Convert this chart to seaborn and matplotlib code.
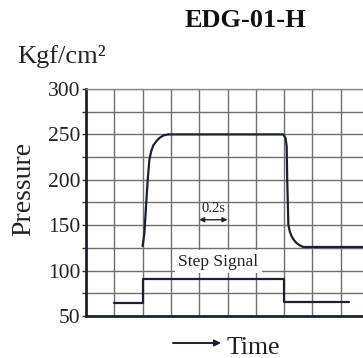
import matplotlib
matplotlib.use("Agg")
import matplotlib.pyplot as plt
import seaborn as sns
import pandas as pd
import numpy as np

# ---- data ----
pressure_time = [2.0, 2.06, 2.12, 2.18, 2.24, 2.30, 2.38, 2.50, 2.61, 2.75, 2.91,
                 6.97, 7.05, 7.09, 7.11, 7.15, 7.20, 7.27, 7.35, 7.44, 7.55, 7.68, 10.0]
pressure_vals = [127, 140, 170, 200, 222, 231, 238, 243, 246.5, 249, 250,
                 250, 246, 237, 200, 151, 143, 137.5, 133.5, 130.4, 127.8, 126, 126]
step_time = [1.0, 2.0, 2.0, 7.0, 7.0, 9.3]
step_vals = [64, 64, 91, 91, 65, 65]
yticks = [50, 75, 100, 125, 150, 175, 200, 225, 250, 275, 300]
ytick_labels = ["50", "", "100", "", "150", "", "200", "", "250", "", "300"]
xgrid = [0, 1, 2, 3, 4, 5, 6, 7, 8, 9, 10]

sns.set_theme(style="white")
plt.rcParams["font.family"] = ["Liberation Serif", "DejaVu Serif"]

W, H = 363, 358
fig = plt.figure(figsize=(W / 100, H / 100), dpi=100)
ax = fig.add_axes([86 / W, (H - 316) / H, (369 - 86) / W, (316 - 89) / H])

line_color = "#1c222c"
df_p = pd.DataFrame({"t": pressure_time, "p": pressure_vals})
df_s = pd.DataFrame({"t": step_time, "p": step_vals})
sns.lineplot(data=df_p, x="t", y="p", sort=False, estimator=None, ax=ax,
             color=line_color, lw=1.6, zorder=4)
sns.lineplot(data=df_s, x="t", y="p", sort=False, estimator=None, ax=ax,
             color=line_color, lw=1.6, zorder=4)

ax.set_xlim(0, 10)
ax.set_ylim(50, 300)
ax.set_xticks(xgrid)
ax.set_xticklabels([])
ax.set_yticks(yticks)
ax.set_yticklabels(ytick_labels, fontsize=15.5, color="#222222")
ax.tick_params(axis="y", which="major", length=3, width=1, color="#333333",
               left=True, pad=1)
ax.tick_params(axis="x", length=0)
ax.grid(True, color="#6f6f6f", lw=1.0, zorder=1)
ax.set_axisbelow(True)
ax.set_xlabel("")
ax.set_ylabel("")

for side in ["right"]:
    ax.spines[side].set_visible(False)
ax.spines["top"].set_color("#8a8a8a")
ax.spines["top"].set_linewidth(1.0)
for side in ["left", "bottom"]:
    ax.spines[side].set_color("#1c222c")
    ax.spines[side].set_linewidth(2.0)

# annotations inside the chart
ax.text(4.67, 110, "Step Signal", fontsize=12.5, ha="center", va="center",
        color="#222222", zorder=3,
        bbox=dict(facecolor="white", edgecolor="none", pad=2.5))
ax.text(4.5, 161, "0.2s", fontsize=10.5, ha="center", va="bottom", color="#222222")
ax.annotate("", xy=(4.0, 156), xytext=(5.0, 156),
            arrowprops=dict(arrowstyle="<|-|>", color=line_color, lw=1.0,
                            mutation_scale=7, shrinkA=0, shrinkB=0))

# texts around
fig.text(245 / W, 1 - 26.7 / H, "EDG-01-H", fontsize=19, fontweight="bold",
         ha="center", va="baseline", color="#111111")
fig.text(17 / W, 1 - 63.5 / H, "Kgf/cm²", fontsize=19, ha="left", va="baseline",
         color="#222222")
fig.text(24 / W, 1 - 189 / H, "Pressure", fontsize=20, rotation=90,
         ha="center", va="center", color="#222222")
fig.text(227 / W, 1 - 354 / H, "Time", fontsize=18.5, ha="left", va="baseline",
         color="#222222")
fig.patches.append(matplotlib.patches.FancyArrowPatch(
    (173 / W, 1 - 343 / H), (221 / W, 1 - 343 / H), transform=fig.transFigure,
    arrowstyle="-|>", mutation_scale=9, color=line_color, lw=1.4,
    shrinkA=0, shrinkB=0))

fig.savefig("out.png", dpi=100)
